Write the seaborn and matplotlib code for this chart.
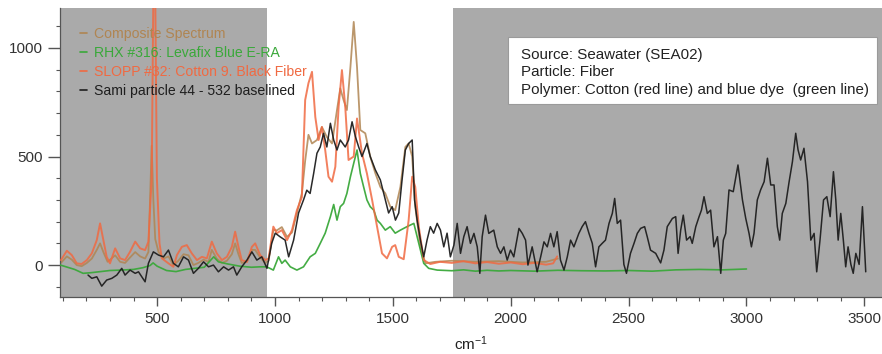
import matplotlib
matplotlib.use("Agg")
import matplotlib.pyplot as plt
import seaborn as sns
import pandas as pd
from matplotlib.ticker import MultipleLocator
from matplotlib.patches import Rectangle
from matplotlib.lines import Line2D

# Raman spectra (x in cm-1, y in counts)
composite_pts = [(92, 10), (117, 40), (138, 25), (159, 0), (180, -5), (202, 10), (223, 30), (244, 70),
                 (258, 100), (272, 60), (290, 15), (322, 45), (343, 15), (364, 10), (385, 35), (407, 60),
                 (428, 40), (449, 30), (463, 60), (470, 300), (477, 550), (484, 300), (492, 120), (506, 60),
                 (527, 30), (548, 40), (569, 0), (590, 20), (612, 50), (633, 45), (654, 0), (675, 10),
                 (697, 25), (718, 15), (732, 70), (753, 30), (775, 10), (796, 20), (817, 50), (831, 100),
                 (845, 50), (859, 10), (881, 15), (902, 70), (916, 70), (937, 35), (959, 10), (973, 20),
                 (993, 161), (1008, 160), (1029, 175), (1051, 130), (1072, 150), (1093, 240), (1114, 330),
                 (1128, 480), (1142, 600), (1157, 560), (1178, 576), (1199, 636), (1220, 590), (1242, 560),
                 (1263, 714), (1277, 814), (1291, 760), (1305, 714), (1320, 912), (1334, 1120), (1348, 912),
                 (1362, 622), (1383, 607), (1404, 500), (1426, 422), (1447, 360), (1468, 330), (1489, 269),
                 (1510, 253), (1532, 360), (1553, 544), (1567, 560), (1582, 500), (1595, 269), (1617, 84),
                 (1638, 8), (1680, 15), (1750, 20), (1850, 15), (1950, 18), (2050, 12), (2150, 15), (2200, 30)]

rhx_pts = [(90, 0), (120, -10), (150, -20), (186, -38), (220, -35), (260, -30), (300, -25), (350, -23),
           (400, -20), (440, -12), (470, -2), (483, 10), (500, -5), (540, -25), (580, -30), (620, -20),
           (660, -15), (700, -10), (740, 38), (760, 15), (800, 5), (850, -5), (900, -10), (937, -8),
           (965, -8), (993, -23), (1015, 38), (1029, 8), (1043, 23), (1065, -8), (1093, -23), (1121, -8),
           (1149, 38), (1171, 54), (1192, 100), (1213, 147), (1235, 223), (1249, 279), (1263, 207),
           (1277, 269), (1291, 284), (1305, 330), (1320, 407), (1334, 469), (1348, 530), (1362, 422),
           (1376, 360), (1390, 300), (1404, 269), (1419, 253), (1433, 207), (1447, 192), (1468, 161),
           (1489, 177), (1510, 147), (1532, 161), (1560, 177), (1589, 192), (1610, 100), (1631, 8),
           (1652, -15), (1688, -23), (1750, -26), (1800, -22), (1850, -28), (1900, -24), (1950, -27),
           (2000, -25), (2100, -28), (2200, -24), (2300, -26), (2400, -27), (2500, -25), (2600, -28),
           (2700, -22), (2800, -20), (2900, -22), (3000, -18)]

slopp_pts = [(92, 23), (117, 66), (138, 46), (159, 8), (180, 5), (202, 23), (223, 54), (244, 115),
             (258, 192), (272, 115), (286, 38), (300, 8), (322, 77), (343, 31), (364, 23), (385, 61),
             (407, 108), (428, 77), (449, 69), (463, 108), (477, 400), (484, 1250), (492, 1250), (499, 400),
             (510, 100), (520, 31), (548, 8), (569, -8), (584, 46), (605, 84), (626, 92), (647, 54),
             (669, 23), (690, 38), (711, 31), (732, 108), (753, 54), (775, 23), (796, 38), (817, 84),
             (831, 154), (845, 84), (859, 23), (881, 15), (902, 84), (916, 100), (937, 46), (959, 23),
             (973, 31), (993, 177), (1008, 147), (1029, 161), (1051, 115), (1072, 161), (1093, 253),
             (1114, 313), (1128, 760), (1142, 838), (1157, 890), (1171, 682), (1185, 576), (1199, 636),
             (1213, 530), (1227, 407), (1242, 384), (1256, 453), (1270, 730), (1284, 898), (1298, 730),
             (1312, 484), (1334, 500), (1348, 675), (1369, 515), (1390, 422), (1412, 300), (1433, 177),
             (1454, 54), (1475, 31), (1497, 84), (1510, 92), (1525, 38), (1546, 27), (1567, 207),
             (1582, 407), (1595, 360), (1610, 177), (1631, 23), (1659, 5), (1700, 15), (1750, 10),
             (1800, 18), (1850, 8), (1900, 14), (1950, 6), (2000, 12), (2050, 4), (2100, 10), (2150, 2),
             (2180, 8), (2197, 40)]

sami_pts = [(207, -46), (223, -61), (244, -54), (265, -97), (286, -69), (308, -61), (329, -46), (350, -15),
            (364, -46), (385, -23), (407, -38), (421, -31), (449, -77), (463, 8), (484, 61), (506, 46),
            (527, 38), (548, 69), (569, 8), (590, -8), (612, 38), (633, 23), (654, -38), (675, -15),
            (697, 15), (718, -8), (739, 0), (760, -31), (782, -8), (803, -23), (824, -8), (838, -46),
            (859, -8), (881, 23), (902, 61), (923, 23), (944, 38), (966, -15), (986, 100), (1001, 147),
            (1022, 130), (1043, 115), (1058, 38), (1079, 115), (1100, 240), (1121, 300), (1135, 345),
            (1149, 330), (1164, 422), (1178, 515), (1192, 544), (1206, 607), (1220, 544), (1235, 653),
            (1249, 576), (1263, 530), (1277, 576), (1298, 544), (1312, 576), (1327, 660), (1341, 592),
            (1355, 544), (1369, 500), (1390, 560), (1404, 500), (1426, 438), (1447, 392), (1468, 300),
            (1482, 240), (1497, 269), (1511, 207), (1525, 240), (1539, 392), (1553, 530), (1567, 560),
            (1582, 576), (1592, 300), (1603, 207), (1617, 115), (1631, 38), (1645, 115), (1659, 177),
            (1673, 147), (1688, 192), (1702, 161), (1716, 84), (1730, 147), (1744, 38), (1759, 92),
            (1773, 192), (1787, 54), (1801, 131), (1815, 177), (1829, 100), (1844, 146), (1858, 84),
            (1869, -38), (1879, 131), (1893, 230), (1907, 146), (1928, 161), (1943, 84), (1957, 54),
            (1971, 84), (1985, 23), (1999, 69), (2013, 38), (2035, 169), (2049, 146), (2063, 115),
            (2073, 0), (2091, 84), (2112, -31), (2127, 38), (2141, 107), (2155, 84), (2169, 146),
            (2183, 84), (2197, 154), (2211, 23), (2226, -23), (2240, 38), (2254, 115), (2268, 84),
            (2289, 146), (2303, 177), (2317, 200), (2332, 146), (2346, 100), (2360, -8), (2374, 84),
            (2388, 100), (2402, 115), (2417, 192), (2431, 238), (2441, 307), (2452, 192), (2466, 207),
            (2480, 3), (2491, -38), (2508, 54), (2523, 100), (2537, 146), (2551, 169), (2568, 177),
            (2579, 131), (2593, 69), (2615, 54), (2636, 10), (2650, 69), (2664, 177), (2686, 215),
            (2700, 223), (2710, 54), (2721, 161), (2732, 230), (2746, 115), (2761, 131), (2770, 100),
            (2785, 177), (2799, 223), (2809, 253), (2820, 315), (2834, 238), (2848, 253), (2862, 84),
            (2877, 131), (2891, -38), (2902, 115), (2912, 146), (2926, 346), (2944, 338), (2964, 461),
            (2983, 300), (2997, 215), (3011, 146), (3021, 84), (3032, 146), (3046, 300), (3060, 346),
            (3075, 384), (3089, 492), (3103, 369), (3117, 369), (3131, 177), (3141, 115), (3152, 238),
            (3167, 284), (3181, 384), (3195, 476), (3209, 607), (3219, 530), (3230, 484), (3244, 538),
            (3259, 384), (3273, 115), (3287, 146), (3298, -31), (3312, 115), (3327, 300), (3341, 315),
            (3355, 223), (3369, 430), (3379, 300), (3389, 115), (3400, 238), (3411, 115), (3421, -8),
            (3431, 84), (3443, 3), (3453, -38), (3464, 54), (3478, 3), (3492, 269), (3506, -31)]

labels = ["Composite Spectrum", "RHX #316: Levafix Blue E-RA",
          "SLOPP #32: Cotton 9. Black Fiber", "Sami particle 44 - 532 baselined"]
colors = ["#b08552", "#3aa83a", "#f06a42", "#1e1e1e"]
gray_bands = [(88, 964), (1755, 3575)]
note_lines = ["Source: Seawater (SEA02)", "Particle: Fiber",
              "Polymer: Cotton (red line) and blue dye  (green line)"]

sns.set_style("ticks")
plt.rcParams['font.family'] = ['Liberation Sans', 'DejaVu Sans']
plt.rcParams['mathtext.default'] = 'regular'

fig = plt.figure(figsize=(8.82, 3.54), dpi=100)
ax = fig.add_axes([60 / 882, 57 / 354, 822 / 882, 289 / 354])

for lo, hi in gray_bands:
    ax.axvspan(lo, hi, color="#aaaaaa", lw=0, zorder=0)

series = [composite_pts, rhx_pts, slopp_pts, sami_pts]
widths = [1.3, 1.2, 1.4, 1.1]
alphas = [0.85, 0.95, 0.85, 0.95]
zorders = [2, 3, 4, 5]
for pts, lab, col, lw, a, z in zip(series, labels, colors, widths, alphas, zorders):
    df = pd.DataFrame(pts, columns=["x", "y"])
    sns.lineplot(data=df, x="x", y="y", ax=ax, color=col, lw=lw, alpha=a,
                 estimator=None, zorder=z, legend=False)

ax.set_xlim(88, 3575)
ax.set_ylim(-147, 1184)
ax.xaxis.set_major_locator(MultipleLocator(500))
ax.xaxis.set_minor_locator(MultipleLocator(100))
ax.yaxis.set_major_locator(MultipleLocator(500))
ax.yaxis.set_minor_locator(MultipleLocator(100))
sns.despine(ax=ax)
for side in ["left", "bottom"]:
    ax.spines[side].set_color("#555555")
    ax.spines[side].set_linewidth(0.9)
ax.tick_params(axis="both", which="both", color="#555555", labelcolor="#333333", labelsize=11)
ax.tick_params(axis="y", which="major", length=9, width=1, pad=3)
ax.tick_params(axis="x", which="major", length=6.5, width=1, pad=4)
ax.tick_params(axis="both", which="minor", length=3, width=0.8)
ax.set_ylabel("")
ax.set_xlabel("cm$^{-1}$", fontsize=11, color="#222222", labelpad=6)

handles = [Line2D([], [], color=c, lw=1.2) for c in colors]
ax.legend(handles, labels, loc="upper left", bbox_to_anchor=(0.018, 0.955), frameon=False,
          handlelength=0.45, handletextpad=0.5, labelspacing=0.36, borderaxespad=0,
          fontsize=10.1, labelcolor=colors)

box = Rectangle((508 / 882, 1 - 104 / 354), (877 - 508) / 882, 67 / 354, transform=fig.transFigure,
                facecolor="white", edgecolor="#9a9a9a", lw=0.8, zorder=10)
fig.patches.append(box)
for line, ypx in zip(note_lines, [55, 72.5, 90]):
    fig.text(521 / 882, 1 - ypx / 354, line, fontsize=10.9, va="center", ha="left",
             color="#222222", zorder=11)

fig.savefig("out.png", dpi=100)
